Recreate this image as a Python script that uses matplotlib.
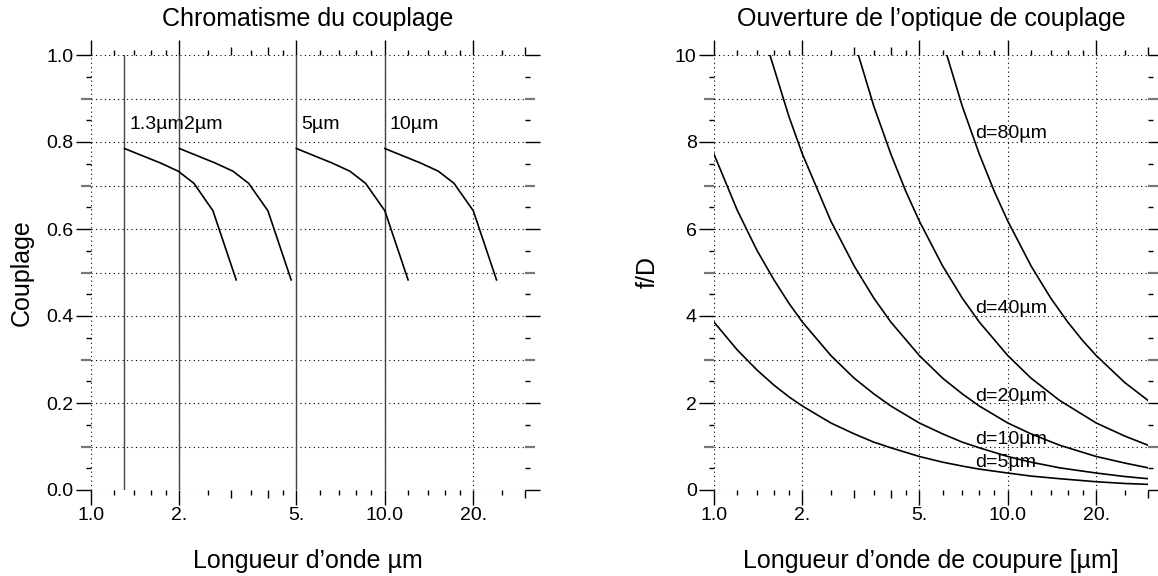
import numpy as np
import matplotlib
matplotlib.use("Agg")
import matplotlib.pyplot as plt
from matplotlib.ticker import NullFormatter

plt.rcParams['font.family'] = ['Liberation Sans', 'DejaVu Sans']

# --- Chromatisme : couplage en fonction de la longueur d'onde ---
coupures = [1.3, 2.0, 5.0, 10.0]
noms_coupures = ["1.3µm", "2µm", "5µm", "10µm"]
lambda_13 = [1.3, 1.72, 1.98, 2.24, 2.6, 3.12]
lambda_2 = [2.0, 2.64, 3.04, 3.44, 4.0, 4.8]
lambda_5 = [5.0, 6.6, 7.6, 8.6, 10.0, 12.0]
lambda_10 = [10.0, 13.2, 15.2, 17.2, 20.0, 24.0]
couplage = [0.785, 0.752, 0.733, 0.705, 0.642, 0.483]

# --- Ouverture f/D en fonction de la longueur d'onde de coupure ---
lam_d5 = [1, 1.2, 1.4, 1.6, 1.8, 2, 2.5, 3, 3.5, 4, 5, 6, 7, 8, 10, 12, 15, 20, 25, 30]
fd_d5 = [3.86, 3.22, 2.76, 2.41, 2.14, 1.93, 1.54, 1.29, 1.10, 0.97, 0.77, 0.64, 0.55,
         0.48, 0.39, 0.32, 0.26, 0.19, 0.15, 0.13]
lam_d10 = lam_d5
fd_d10 = [7.72, 6.43, 5.51, 4.83, 4.29, 3.86, 3.09, 2.57, 2.21, 1.93, 1.54, 1.29, 1.10,
          0.97, 0.77, 0.64, 0.51, 0.39, 0.31, 0.26]
lam_d20 = [1.55, 1.8, 2, 2.5, 3, 3.5, 4, 5, 6, 7, 8, 10, 12, 15, 20, 25, 30]
fd_d20 = [10.0, 8.58, 7.72, 6.18, 5.15, 4.41, 3.86, 3.09, 2.57, 2.21, 1.93, 1.54, 1.29,
          1.03, 0.77, 0.62, 0.51]
lam_d40 = [3.1, 3.5, 4, 4.5, 5, 6, 7, 8, 10, 12, 15, 20, 25, 30]
fd_d40 = [10.0, 8.82, 7.72, 6.86, 6.18, 5.15, 4.41, 3.86, 3.09, 2.57, 2.06, 1.54, 1.24, 1.03]
lam_d80 = [6.2, 7, 8, 9, 10, 12, 14, 16, 18, 20, 25, 30]
fd_d80 = [10.0, 8.82, 7.72, 6.86, 6.18, 5.15, 4.41, 3.86, 3.43, 3.09, 2.47, 2.06]
noms_d = ["d=5µm", "d=10µm", "d=20µm", "d=40µm", "d=80µm"]
pos_noms_d = [0.64, 1.15, 2.16, 4.18, 8.2]

# graduations communes (axe log)
x_major = [1, 2, 5, 10, 20]
x_major_lab = ["1.0", "2.", "5.", "10.0", "20."]
x_minor = [1.2, 1.4, 1.6, 1.8, 2.5, 3, 3.5, 4, 4.5, 6, 7, 8, 9,
           12, 14, 16, 18, 25, 30]
x_minor_mid = [3, 4, 30]

LONG, MOYEN, COURT = 10.5, 7.0, 3.5
GRAND, PETIT = 18, 14


def habiller(ax, ymax, ystep, yfmt):
    ax.set_xscale('log')
    ax.set_xlim(1, 30)
    ax.set_ylim(0, ymax)
    for s in ax.spines.values():
        s.set_visible(False)

    ax.set_xticks(x_major)
    ax.set_xticklabels(x_major_lab)
    ax.set_xticks(x_minor, minor=True)
    ax.xaxis.set_minor_formatter(NullFormatter())

    yt = np.round(np.arange(0, ymax + ystep / 2, ystep), 6)
    ax.set_yticks(yt)
    ax.set_yticklabels([yfmt % v if i % 2 == 0 else "" for i, v in enumerate(yt)])
    ax.set_yticks(np.round(yt[:-1] + ystep / 2, 6), minor=True)

    ax.tick_params(which='both', direction='out', top=True, right=True,
                   labelsize=PETIT, color='k', width=1, pad=2)
    ax.tick_params(which='major', length=LONG)
    ax.tick_params(which='minor', length=COURT)
    ax.grid(True, which='major', ls=(0, (1, 3)), color='k', lw=0.8)

    # graduations intermédiaires : plus courtes et grises
    for i, t in enumerate(ax.yaxis.get_major_ticks()):
        if i % 2 == 1:
            for ln in (t.tick1line, t.tick2line):
                ln.set_markersize(MOYEN)
                ln.set_markeredgecolor('#777777')
                ln.set_markeredgewidth(1.6)
    for v, t in zip(x_minor, ax.xaxis.get_minor_ticks()):
        if v in x_minor_mid:
            t.tick1line.set_markersize(5.5)
            t.tick2line.set_markersize(5.5)


fig = plt.figure(figsize=(11.58, 5.76), dpi=100)
ax1 = fig.add_axes([91 / 1158, 1 - 490 / 576, 434 / 1158, 435 / 576])
ax2 = fig.add_axes([714 / 1158, 1 - 490 / 576, 434 / 1158, 435 / 576])

# panneau de gauche
for c in coupures:
    ax1.plot([c, c], [0, 1], color='#444444', lw=1.0)
for lam in (lambda_13, lambda_2, lambda_5, lambda_10):
    ax1.plot(lam, couplage, color='k', lw=1.2)
for c, nom in zip(coupures, noms_coupures):
    ax1.text(c * 1.04, 0.84, nom, fontsize=PETIT, ha='left', va='center')
habiller(ax1, 1.0, 0.1, "%.1f")
ax1.set_title("Chromatisme du couplage", fontsize=GRAND, pad=21)
ax1.text(0.5, -0.179, "Longueur d’onde µm", fontsize=GRAND, ha='center',
         va='baseline', transform=ax1.transAxes)
ax1.text(-0.159, 0.5, "Couplage", fontsize=GRAND, rotation=90, ha='center',
         va='center', transform=ax1.transAxes)

# panneau de droite
for lam, fd in ((lam_d5, fd_d5), (lam_d10, fd_d10), (lam_d20, fd_d20),
                (lam_d40, fd_d40), (lam_d80, fd_d80)):
    ax2.plot(lam, fd, color='k', lw=1.2)
for nom, y in zip(noms_d, pos_noms_d):
    ax2.text(7.73, y, nom, fontsize=PETIT, ha='left', va='center')
habiller(ax2, 10, 1, "%d")
ax2.set_title("Ouverture de l’optique de couplage", fontsize=GRAND, pad=21)
ax2.text(0.5, -0.179, "Longueur d’onde de coupure [µm]", fontsize=GRAND, ha='center',
         va='baseline', transform=ax2.transAxes)
ax2.text(-0.152, 0.5, "f/D", fontsize=GRAND, rotation=90, ha='center',
         va='center', transform=ax2.transAxes)

fig.savefig("out.png", dpi=100)
